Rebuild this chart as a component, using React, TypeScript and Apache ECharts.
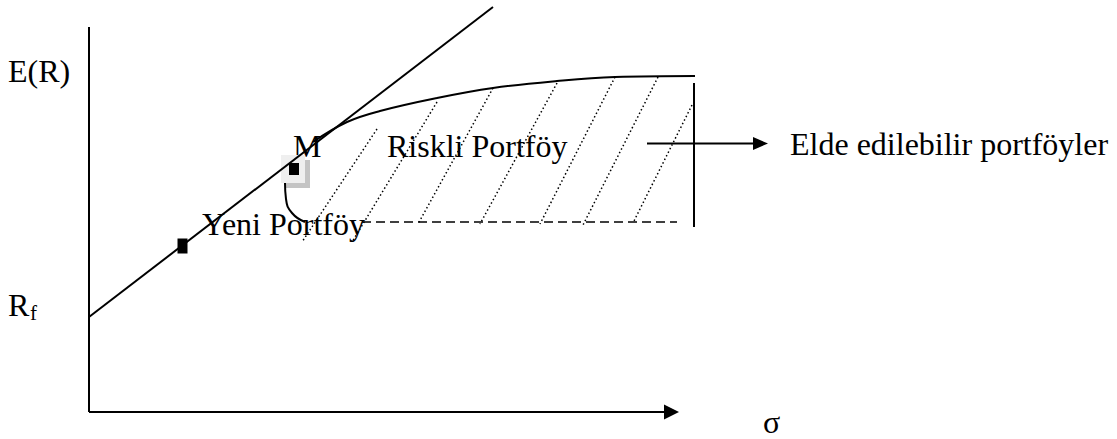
import React, { useEffect, useRef } from "react";
import * as echarts from "echarts";

// Coordinate system: origin at the axes' crossing, σ to the right, E(R) upward.
const sigmaMax = 1028;
const returnMax = 412;

const sigmaAxis = [[0, 0], [576, 0]];
const sigmaArrow = [[582.5, 0]];
const returnAxis = [[0, 0], [0, 385]];
const cmlLine = [[0, 95], [404, 405]];
const frontierUpper = [[224, 270], [258, 290], [291, 301], [348, 314], [404, 324], [468, 331], [526, 335], [606, 336]];
const frontierLower = [[196, 229], [197, 213], [203, 199], [216, 190]];
const minimumLine = [[273, 190], [588, 190]];
const boundLine = [[605, 329], [605, 185]];
const pointerLine = [[558, 268.5], [665, 268.5]];
const pointerHead = [[671.5, 268.5]];
const hatchLines = [
  [[288, 283], [213, 170]],
  [[348, 310], [263, 170]],
  [[404, 324], [329, 188]],
  [[468, 329], [391, 188]],
  [[526, 335], [451, 188]],
  [[569, 335], [494, 187]],
  [[603, 307], [544, 189]],
];
const newPortfolio = [[93.5, 166]];
const marketShadow = [[209, 238]];
const marketBox = [[204, 243]];
const marketPoint = [[205, 243]];

const FONT = "'Liberation Serif', 'Times New Roman', serif";

export default function App() {
  const ref = useRef<HTMLDivElement>(null);
  useEffect(() => {
    if (!ref.current) return;
    const chart = echarts.init(ref.current, null, { renderer: "svg" });
    const lineBase = (data: number[][], width: number, type: any = "solid") => ({
      type: "line",
      data,
      showSymbol: false,
      symbol: "none",
      clip: false,
      silent: true,
      lineStyle: { color: "#000", width, type },
    });
    const marker = (data: number[][], symbol: string, size: number[], color: string, rotate = 0) => ({
      type: "scatter",
      data,
      clip: false,
      silent: true,
      symbol,
      symbolRotate: rotate,
      symbolSize: size,
      itemStyle: { color, opacity: 1 },
    });
    const text = (t: string, x: number, y: number, size = 32) => ({
      type: "text",
      x,
      y,
      z: 1,
      style: { text: t, fontSize: size, fontFamily: FONT, fill: "#000", align: "left", verticalAlign: "middle" },
    });
    const series: any[] = [];
    hatchLines.forEach((h) => series.push(lineBase(h, 1.5, [1.5, 2.5])));
    series.push(lineBase(sigmaAxis, 2));
    series.push(lineBase(returnAxis, 2));
    series.push(lineBase(cmlLine, 2));
    series.push({ ...lineBase(frontierUpper, 2), smooth: 0.4 });
    series.push({ ...lineBase(frontierLower, 2), smooth: 0.5 });
    series.push(lineBase(minimumLine, 1.5, [9, 5]));
    series.push(lineBase(boundLine, 2));
    series.push(lineBase(pointerLine, 2));
    series.push(marker(sigmaArrow, "triangle", [15, 15], "#000", -90));
    series.push(marker(pointerHead, "triangle", [13, 15], "#000", -90));
    series.push(marker(newPortfolio, "rect", [10, 15], "#000"));
    series.push(marker(marketShadow, "rect", [24, 28], "#c4c4c4"));
    series.push(marker(marketBox, "rect", [24, 28], "#efefef"));
    series.push(marker(marketPoint, "rect", [10, 12], "#000"));

    chart.setOption({
      animation: false,
      backgroundColor: "#fff",
      grid: { left: 89, top: 0, width: sigmaMax, height: returnMax },
      xAxis: { type: "value", min: 0, max: sigmaMax, show: false },
      yAxis: { type: "value", min: 0, max: returnMax, show: false },
      graphic: [
        text("E(R)", 8, 71),
        text("R", 8, 305),
        text("f", 30, 313, 21),
        text("M", 293, 146),
        text("Riskli Portföy", 387, 146),
        text("Yeni Portföy", 202, 224),
        text("Elde edilebilir portföyler", 790, 144),
        text("σ", 763, 422),
      ],
      series,
    });
    return () => chart.dispose();
  }, []);
  return <div ref={ref} style={{ position: "fixed", left: 0, top: 0, width: 1117, height: 439 }} />;
}
